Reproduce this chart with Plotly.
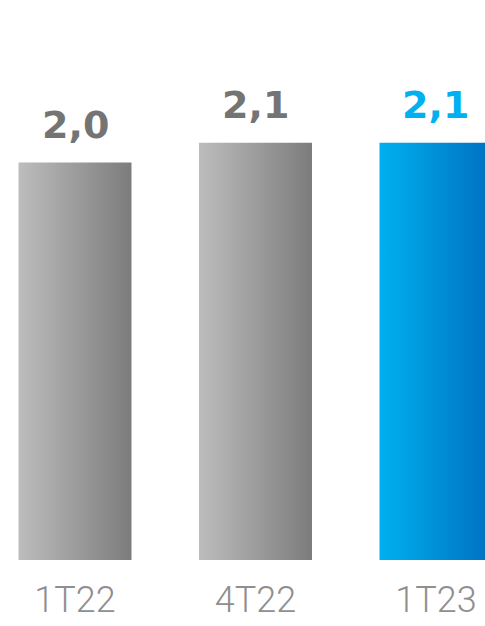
import plotly.graph_objects as go

# Quarterly values
categories = ["1T22", "4T22", "1T23"]
values = [2.0, 2.1, 2.1]
value_labels = ["2,0", "2,1", "2,1"]

gray_scale = [[0, "#bdbdbd"], [1, "#7c7c7c"]]
blue_scale = [[0, "#00b0f0"], [1, "#0070c0"]]
bar_scales = [gray_scale, gray_scale, blue_scale]
label_colors = ["#747474", "#747474", "#00b0f0"]

half_width = 0.313

fig = go.Figure()

for i, (cat, v) in enumerate(zip(categories, values)):
    xs = [i - half_width, i + half_width, i + half_width, i - half_width, i - half_width]
    ys = [0, 0, v, v, 0]
    fig.add_trace(go.Scatter(
        x=xs, y=ys, mode="none", fill="toself",
        fillgradient=dict(type="horizontal", colorscale=bar_scales[i]),
        hoverinfo="skip", showlegend=False, name=cat,
    ))
    fig.add_annotation(
        x=i, y=v, xref="x", yref="y", text=value_labels[i],
        showarrow=False, yanchor="bottom", yshift=14,
        font=dict(family="DejaVu Sans", size=38, color=label_colors[i], weight="bold"),
    )

fig.update_layout(
    width=485, height=626,
    margin=dict(l=0, r=0, t=0, b=66),
    paper_bgcolor="white", plot_bgcolor="white",
    xaxis=dict(
        range=[-0.4155, 2.2715], showgrid=False, zeroline=False, showline=False,
        tickmode="array", tickvals=list(range(len(categories))), ticktext=categories,
        tickfont=dict(family="Roboto", size=36, color="#8f8f8f", weight=300),
        ticks="", ticklabelstandoff=15, automargin=False, fixedrange=True,
    ),
    yaxis=dict(
        range=[0, 560 / 198.7], visible=False, fixedrange=True,
    ),
)

fig.write_html("out.html")
